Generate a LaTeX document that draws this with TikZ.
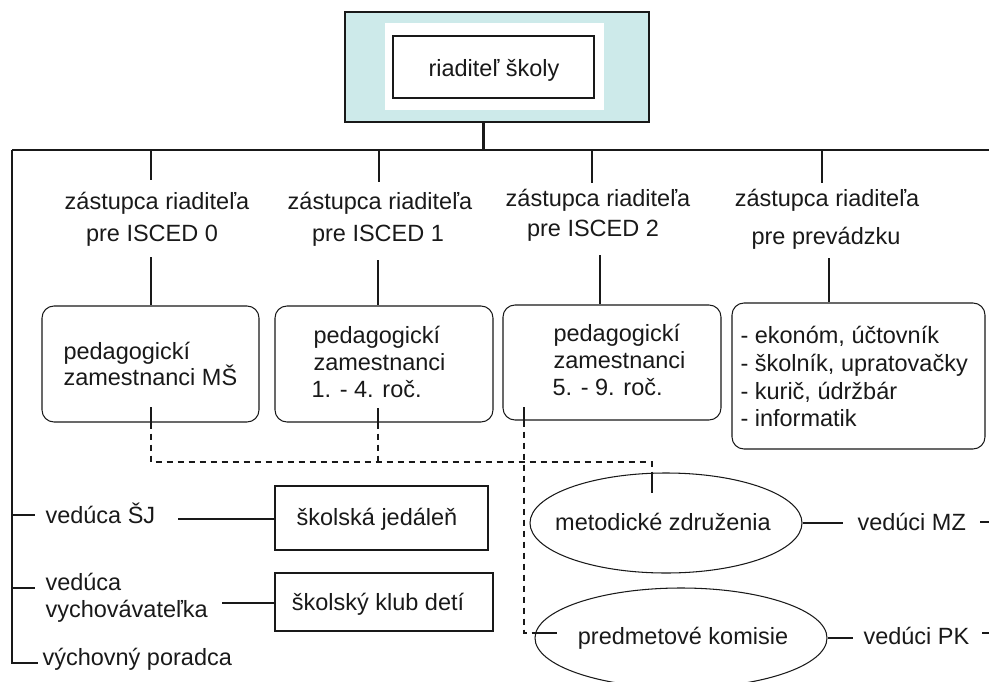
\documentclass[tikz,border=0pt]{standalone}
\usepackage{fontspec}
\setmainfont{Liberation Sans}
\usetikzlibrary{shapes.geometric}
\definecolor{topcyan}{RGB}{205,234,234}
\definecolor{ink}{RGB}{25,25,25}
\begin{document}
\begin{tikzpicture}[x=1pt,y=-1pt,line width=1.05pt,draw=ink,
  txt/.style={font=\fontsize{23.5}{27}\selectfont,inner sep=0pt,anchor=base,text=ink},
  txtl/.style={txt,anchor=base west},
  rbox/.style={draw,rounded corners=12pt,inner sep=0pt},
  sbox/.style={draw,inner sep=0pt},
  oval/.style={draw,ellipse,inner sep=0pt},
  dsh/.style={dash pattern=on 6pt off 5pt}]
\useasboundingbox (0,0) rectangle (989,681);

% top box
\node[sbox,fill=topcyan,minimum width=304pt,minimum height=110pt] (topouter) at (497,67) {};
\node[fill=white,inner sep=0pt,minimum width=219pt,minimum height=87pt] (topwhite) at (494.5,66.5) {};
\node[sbox,fill=white,minimum width=201pt,minimum height=62pt] (dir) at (493.5,67) {};
\node[txt] (dirt) at (494,76) {riaditeľ školy};

% bus
\coordinate (busL) at (12,150);
\coordinate (busR) at (989,150);
\coordinate (tk) at (483,150);
\draw (busL) -- (busR);
\draw[line width=3pt] (topouter.south -| tk) -- (tk);

% column labels
\node[txt] (z1a) at (157,209) {zástupca riaditeľa};
\node[txt] (z1b) at (152,241) {pre ISCED 0};
\node[txt] (z2a) at (380,209) {zástupca riaditeľa};
\node[txt] (z2b) at (378,241) {pre ISCED 1};
\node[txt] (z3a) at (598,206) {zástupca riaditeľa};
\node[txt] (z3b) at (593,236) {pre ISCED 2};
\node[txt] (z4a) at (827,206) {zástupca riaditeľa};
\node[txt] (z4b) at (826,244) {pre prevádzku};

% boxes
\node[rbox,minimum width=217pt,minimum height=116pt] (b1) at (150.5,364) {};
\node[rbox,minimum width=218pt,minimum height=116pt] (b2) at (384,364) {};
\node[rbox,minimum width=218pt,minimum height=115pt] (b3) at (612,362.5) {};
\node[rbox,minimum width=253pt,minimum height=146pt] (b4) at (858.5,376) {};

\node[txtl] (b1l1) at (63,359) {pedagogickí};
\node[txtl] (b1l2) at (63,385) {zamestnanci MŠ};
\node[txtl] (b2l1) at (313,343) {pedagogickí};
\node[txtl] (b2l2) at (313,370) {zamestnanci};
\node[txtl] (b2l3) at (311,397) {1. - 4. roč.};
\node[txtl] (b3l1) at (553,341) {pedagogickí};
\node[txtl] (b3l2) at (553,368) {zamestnanci};
\node[txtl] (b3l3) at (552,395) {5. - 9. roč.};
\node[txtl] (b4l1) at (740,343) {- ekonóm, účtovník};
\node[txtl] (b4l2) at (740,371) {- školník, upratovačky};
\node[txtl] (b4l3) at (740,399) {- kurič, údržbár};
\node[txtl] (b4l4) at (740,426) {- informatik};

% column connectors
\coordinate (c1t) at (151,180); \coordinate (c1m) at (151,257);
\coordinate (c2t) at (379,182); \coordinate (c2m) at (378,260);
\coordinate (c3t) at (592,183); \coordinate (c3m) at (600,255);
\coordinate (c4t) at (822,183); \coordinate (c4m) at (829,258);
\draw (c1t |- busL) -- (c1t);  \draw (c1m) -- (c1m |- b1.north);
\draw (c2t |- busL) -- (c2t);  \draw (c2m) -- (c2m |- b2.north);
\draw (c3t |- busL) -- (c3t);  \draw (c3m) -- (c3m |- b3.north);
\draw (c4t |- busL) -- (c4t);  \draw (c4m) -- (c4m |- b4.north);

% ellipses
\node[oval,minimum width=272pt,minimum height=100pt] (e1) at (666,523) {};
\node[oval,minimum width=292pt,minimum height=100pt] (e2) at (681,638) {};
\node[txt] (e1t) at (663,530) {metodické združenia};
\node[txt] (e2t) at (683,644) {predmetové komisie};

% dashed links
\coordinate (d1) at (151,407);
\coordinate (d1b) at (151,462);
\coordinate (d2) at (378,408);
\coordinate (dj) at (652,462);
\coordinate (dk) at (652,493);
\coordinate (d3) at (524,407);
\coordinate (d3b) at (524,633);
\coordinate (d3c) at (557,633);
\draw (d1) -- (d1 |- b1.south);
\draw[dsh] (d1 |- b1.south) -- (d1b) -- (dj) -- (dj |- e1.north);
\draw (dj |- e1.north) -- (dk);
\draw (d2) -- (d2 |- b2.south);
\draw[dsh] (d2 |- b2.south) -- (d2 |- d1b);
\draw (d3) -- (d3 |- b3.south);
\draw[dsh] (d3 |- b3.south) -- (d3b) -- (537,633);
\draw (537,633) -- (d3c);

% right side leaders
\coordinate (mzl) at (843,523);
\coordinate (pkl) at (853,638);
\draw (e1.east) -- (mzl);
\draw (e2.east) -- (pkl);
\node[txtl] (mz) at (857,530) {vedúci MZ};
\node[txtl] (pk) at (863,644) {vedúci PK};
\coordinate (mzd) at (980,522); \coordinate (mzd2) at (989,522);
\coordinate (pkd) at (982,633); \coordinate (pkd2) at (989,633);
\draw (mzd) -- (mzd2);
\draw (pkd) -- (pkd2);

% left side
\coordinate (lb) at (12,663);
\coordinate (lbe) at (38,663);
\draw (busL) -- (lb) -- (lbe);
\coordinate (t1) at (12,515); \coordinate (t1e) at (35,515);
\coordinate (t2) at (12,588); \coordinate (t2e) at (35,588);
\draw (t1) -- (t1e);
\draw (t2) -- (t2e);
\node[txtl] (vsj) at (45,523) {vedúca ŠJ};
\node[txtl] (vv1) at (45,590) {vedúca};
\node[txtl] (vv2) at (45,617) {vychovávateľka};
\node[txtl] (vp) at (42,665) {výchovný poradca};

\node[sbox,minimum width=213pt,minimum height=64pt] (sj) at (381.5,518) {};
\node[sbox,minimum width=218pt,minimum height=58pt] (skd) at (384,602) {};
\node[txt] (sjt) at (377,525) {školská jedáleň};
\node[txt] (skdt) at (378,610) {školský klub detí};
\coordinate (sjl) at (178,519);
\coordinate (skl) at (222,603);
\draw (sjl) -- (sjl -| sj.west);
\draw (skl) -- (skl -| skd.west);
\end{tikzpicture}
\end{document}
